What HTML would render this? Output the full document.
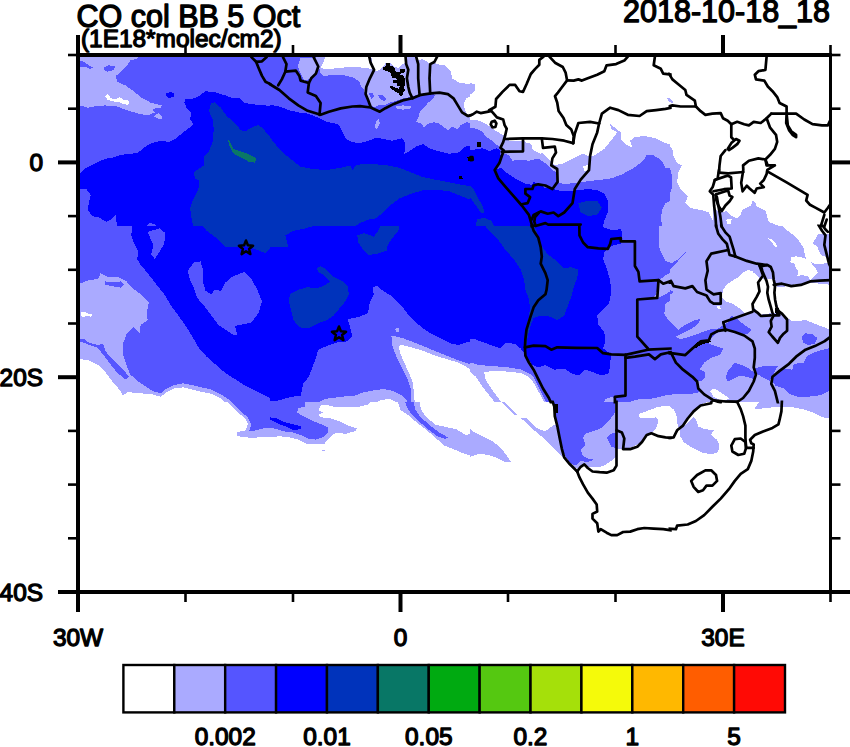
<!DOCTYPE html>
<html lang="en"><head><meta charset="utf-8"><title>CO col BB 5 Oct</title>
<style>html,body{margin:0;padding:0;background:#fff;}svg{display:block;}text{font-family:"Liberation Sans",sans-serif;fill:#000;stroke:#000;stroke-width:1.3px;stroke-linejoin:round;}.t1{font-size:30.5px}.t2{font-size:24.4px}.bd{fill:none;stroke:#000;stroke-width:2.7;stroke-linejoin:round;stroke-linecap:round}.fr{fill:none;stroke:#000;stroke-width:3.6;stroke-linecap:butt}</style></head><body>
<svg width="850" height="747" viewBox="0 0 850 747">
<rect width="850" height="747" fill="#fff"/>
<defs><clipPath id="c"><rect x="78" y="55" width="752.5" height="537"/></clipPath></defs>
<defs><clipPath id="k0"><rect x="78" y="55" width="192.236" height="170.972"/></clipPath><clipPath id="q0"><rect x="78" y="55" width="193.736" height="172.472"/></clipPath><clipPath id="k1"><rect x="270" y="55" width="200.236" height="170.972"/></clipPath><clipPath id="q1"><rect x="268.5" y="55" width="203.236" height="172.472"/></clipPath><clipPath id="k2"><rect x="470" y="55" width="200.236" height="170.972"/></clipPath><clipPath id="q2"><rect x="468.5" y="55" width="203.236" height="172.472"/></clipPath><clipPath id="k3"><rect x="670" y="55" width="160.5" height="171"/></clipPath><clipPath id="q3"><rect x="668.5" y="55" width="162" height="172.5"/></clipPath><clipPath id="k4"><rect x="78" y="226" width="192.236" height="175.972"/></clipPath><clipPath id="q4"><rect x="78" y="224.5" width="193.736" height="178.972"/></clipPath><clipPath id="k5"><rect x="270" y="226" width="200.236" height="175.972"/></clipPath><clipPath id="q5"><rect x="268.5" y="224.5" width="203.236" height="178.972"/></clipPath><clipPath id="k6"><rect x="470" y="226" width="200.236" height="175.972"/></clipPath><clipPath id="q6"><rect x="468.5" y="224.5" width="203.236" height="178.972"/></clipPath><clipPath id="k7"><rect x="670" y="226" width="160.5" height="176"/></clipPath><clipPath id="q7"><rect x="668.5" y="224.5" width="162" height="179"/></clipPath><clipPath id="k8"><rect x="78" y="402" width="192.236" height="175.972"/></clipPath><clipPath id="q8"><rect x="78" y="400.5" width="193.736" height="178.972"/></clipPath><clipPath id="k9"><rect x="270" y="402" width="200.236" height="175.972"/></clipPath><clipPath id="q9"><rect x="268.5" y="400.5" width="203.236" height="178.972"/></clipPath><clipPath id="k10"><rect x="470" y="402" width="200.236" height="175.972"/></clipPath><clipPath id="q10"><rect x="468.5" y="400.5" width="203.236" height="178.972"/></clipPath><clipPath id="k11"><rect x="670" y="402" width="160.5" height="176"/></clipPath><clipPath id="q11"><rect x="668.5" y="400.5" width="162" height="179"/></clipPath><clipPath id="k12"><rect x="370" y="55" width="60" height="53"/></clipPath><clipPath id="q12"><rect x="368.5" y="55" width="63" height="54.5"/></clipPath><clipPath id="k13"><rect x="600" y="370" width="120" height="106"/></clipPath><clipPath id="q13"><rect x="598.5" y="368.5" width="123" height="109"/></clipPath></defs>
<g shape-rendering="crispEdges">
<g clip-path="url(#k0)">
<rect x="78" y="55" width="192.236" height="170.972" fill="#5555ff"/>
<polygon fill="#aaaaff" points="79.9,57.1 138.3,57.1 138.3,58.2 130.1,60.6 126.5,66.5 120.6,72.4 115.9,75.9 117.1,81.8 125.4,85.3 133.6,91.2 140.7,97.1 151.3,103.0 161.9,105.4 160.7,107.7 152.4,108.9 154.8,112.4 147.7,115.5 138.3,113.6 126.5,110.1 117.1,106.5 105.3,105.4 93.6,106.5 87.7,107.7 79.9,105.4"/>
<polygon fill="#5555ff" points="104.2,67.0 108.9,65.3 114.8,66.5 114.3,70.0 107.7,71.7 104.2,70.0"/>
<polygon fill="#5555ff" points="79.9,60.6 84.1,61.8 88.8,65.3 93.1,67.7 90.0,68.8 84.1,66.5 79.9,66.5"/>
<polygon fill="#ffffff" points="104.9,95.9 107.7,94.3 111.2,98.3 115.9,99.5 119.5,97.1 123.0,99.5 128.9,100.6 128.4,104.7 123.0,104.2 118.3,101.8 112.4,101.4 107.7,99.9"/>
<polygon fill="#aaaaff" points="153.6,116.4 158.3,113.1 161.9,116.0 161.4,119.7 157.2,118.3"/>
<polygon fill="#0000ff" points="166.1,93.6 170.1,91.9 174.1,93.6 173.7,97.1 168.9,97.8 166.1,95.9"/>
<polygon fill="#0000ff" points="79.9,173.7 84.1,169.0 91.2,165.4 98.3,161.9 105.3,158.8 114.8,157.2 120.6,154.8 132.4,153.7 138.3,152.5 145.4,146.6 151.3,143.1 160.7,140.7 168.9,141.9 176.0,138.3 183.1,132.4 187.8,128.9 193.7,124.2 190.1,119.5 191.3,112.4 186.6,107.7 184.3,103.0 185.0,99.5 194.9,98.3 200.7,94.8 205.5,91.2 216.1,92.4 226.7,95.9 232.5,98.3 239.6,98.3 244.3,103.0 256.1,104.7 272.6,106.1 272.6,229.0 79.9,229.0"/>
<polygon fill="#5555ff" points="79.9,188.5 86.5,189.5 90.7,194.9 88.8,203.1 87.7,210.2 92.4,216.1 99.4,217.7 106.5,222.0 112.4,218.4 115.9,214.9 117.1,229.0 79.9,229.0"/>
<polygon fill="#5555ff" points="145.4,229.0 148.9,223.1 154.8,223.9 158.3,229.0"/>
<polygon fill="#5555ff" points="79.9,167.8 86.5,163.1 93.6,158.8 100.6,153.7 101.8,156.0 94.7,161.9 87.7,166.6 79.9,171.3"/>
<polygon fill="#0033bb" points="210.9,103.7 214.9,102.3 220.8,107.7 226.7,116.0 234.9,123.0 240.8,130.1 245.5,131.3 251.4,127.7 258.5,124.9 263.2,128.9 272.6,139.5 272.6,229.0 193.7,229.0 191.3,217.3 190.1,207.8 193.7,198.4 198.4,189.0 199.6,180.7 194.9,178.4 193.7,172.5 198.4,169.0 203.8,165.4 204.3,156.0 209.0,151.3 212.5,141.9 213.7,130.1 213.2,120.7 209.0,111.2"/>
<polygon fill="#0a7766" points="227.4,139.0 230.2,141.9 233.7,148.9 242.0,151.8 250.2,154.8 256.6,158.8 254.9,162.6 249.0,161.9 240.8,157.2 233.7,153.7 230.2,147.8"/>
</g>
<g clip-path="url(#k1)">
<rect x="270" y="55" width="200.236" height="170.972" fill="#5555ff"/>
<polygon fill="#aaaaff" points="300.6,58.2 325.4,57.1 323.0,63.0 319.5,68.8 315.9,74.7 308.9,79.4 304.2,80.6 300.6,73.6 297.8,66.5"/>
<polygon fill="#aaaaff" points="320.6,57.1 472.6,57.1 472.6,123.0 466.2,122.3 460.6,125.1 457.8,129.4 452.1,126.6 447.9,130.1 445.0,128.0 439.4,123.7 433.7,122.3 428.1,123.7 423.8,127.3 421.0,123.0 416.1,122.3 418.2,118.1 419.6,112.4 423.8,108.2 428.1,102.5 432.3,99.7 435.1,95.5 430.9,92.6 423.8,93.3 416.8,94.8 412.5,96.9 406.9,97.6 401.2,99.0 395.6,101.1 389.7,102.5 384.0,105.4 379.8,104.7 375.5,106.8 370.6,106.1 367.8,101.1 365.6,95.5 363.5,89.1 360.0,84.9 359.5,81.8 352.4,77.1 340.7,74.7 328.9,75.4 324.2,76.4 320.6,73.6 319.5,68.8 323.0,63.0"/>
<polygon fill="#5555ff" points="368.5,93.3 372.7,92.6 374.1,96.9 371.3,99.0"/>
<polygon fill="#5555ff" points="378.4,95.5 382.6,94.8 386.8,99.0 384.0,101.1 379.8,99.0"/>
<polygon fill="#aaaaff" points="396.0,106.1 402.6,105.4 411.1,106.1 410.4,108.9 402.6,109.6 396.7,108.9"/>
<polygon fill="#aaaaff" points="376.2,120.9 379.1,118.8 379.8,123.7 376.9,128.7 374.8,128.0"/>
<polygon fill="#ffffff" points="325.4,57.1 369.2,57.1 370.6,62.7 373.4,69.1 368.5,68.4 364.2,67.7 352.4,67.0 340.7,67.7 331.2,68.8 320.6,68.4 323.0,63.0"/>
<polygon fill="#ffffff" points="371.3,56.4 405.5,56.4 404.7,63.4 401.2,64.8 398.4,67.7 394.9,67.0 390.4,63.4 386.1,62.7 383.3,66.3 379.8,69.8 375.5,71.2 373.4,69.1 372.0,62.7"/>
<polygon fill="#ffffff" points="416.8,56.4 436.5,56.4 435.1,59.9 430.9,62.7 429.5,64.1 426.7,61.3 422.4,59.2 418.2,59.9"/>
<polygon fill="#ffffff" points="437.3,56.4 479.9,56.4 479.9,112.4 477.8,111.2 473.5,113.8 467.9,115.5 464.8,109.6 463.4,103.9 466.2,98.3 472.1,95.5 474.9,88.4 473.5,83.2 467.9,83.9 459.2,82.5 452.1,78.3 450.7,71.2 445.0,65.5 436.5,64.1 434.4,62.0"/>
<polygon fill="#0000ff" points="270.0,104.7 279.4,106.5 288.8,110.1 298.3,112.4 307.7,113.6 317.1,117.1 326.5,121.8 338.3,124.2 341.8,130.1 345.4,138.3 351.3,141.9 359.5,143.1 368.9,140.7 376.0,137.6 383.1,139.0 392.5,140.7 401.9,138.3 405.5,143.1 404.3,153.7 409.0,151.3 416.1,146.6 423.1,144.2 430.2,148.9 439.6,151.3 449.0,153.7 458.5,152.5 465.5,146.6 472.6,145.4 472.6,229.0 270.0,229.0"/>
<polygon fill="#0033bb" points="270.0,137.2 277.1,146.6 284.1,153.7 291.2,159.5 300.6,166.6 312.4,169.0 326.5,170.1 340.7,167.8 350.1,165.4 352.4,170.1 356.0,165.4 364.2,163.5 376.0,164.3 387.8,165.4 399.6,167.8 411.3,172.5 423.1,177.2 434.9,179.6 446.7,181.9 458.5,184.3 472.6,186.6 472.6,200.8 458.5,194.9 449.0,191.3 434.9,189.5 423.1,190.2 411.3,193.7 399.6,198.4 390.1,205.5 383.1,212.5 376.0,218.4 368.9,219.6 359.5,223.1 351.3,229.0 270.0,229.0"/>
<polygon fill="#000000" points="467.4,157.2 470.0,156.5 470.9,160.7 468.4,161.2"/>
<polygon fill="#000000" points="458.9,176.3 462.0,175.8 462.7,178.6 459.6,179.1"/>
</g>
<g clip-path="url(#k2)">
<rect x="470" y="55" width="200.236" height="170.972" fill="#ffffff"/>
<polygon fill="#aaaaff" points="470.0,83.0 474.7,84.2 475.2,90.0 472.4,93.6 470.0,93.6"/>
<polygon fill="#aaaaff" points="470.0,119.5 479.4,120.7 486.5,124.2 491.2,127.7 498.3,132.4 505.3,136.0 508.9,140.7 521.8,140.7 531.2,143.1 532.4,148.9 538.3,151.3 543.0,153.7 550.1,160.7 554.8,165.4 564.2,163.1 573.7,158.4 583.1,153.7 590.1,157.2 597.2,153.7 604.3,148.9 609.0,143.1 613.7,137.2 617.2,132.4 611.3,128.9 610.2,124.2 614.9,127.7 620.8,132.4 620.8,139.5 625.5,144.2 632.5,147.8 630.2,140.7 634.9,137.2 644.3,136.0 656.1,138.3 665.5,143.1 672.6,145.4 672.6,229.0 470.0,229.0"/>
<polygon fill="#ffffff" points="583.1,166.6 587.8,165.0 588.3,170.1 584.3,171.3"/>
<polygon fill="#aaaaff" points="667.4,98.3 672.6,98.3 672.6,102.3 669.1,101.8"/>
<polygon fill="#5555ff" points="470.0,127.7 477.1,128.9 481.8,131.3 486.5,137.2 492.4,140.7 495.9,144.2 500.6,147.8 503.0,153.7 508.9,154.8 512.4,160.7 519.5,159.5 528.9,160.7 538.3,158.4 545.4,163.1 551.3,169.0 556.0,172.5 557.2,181.9 564.2,184.3 573.7,183.1 583.1,181.9 592.5,180.7 601.9,179.6 611.3,178.4 620.8,174.9 630.2,170.1 637.3,165.4 644.3,159.5 646.7,154.8 652.6,154.8 658.5,158.4 663.2,163.1 665.5,167.8 672.6,169.0 672.6,229.0 470.0,229.0"/>
<polygon fill="#aaaaff" points="672.6,199.6 665.5,203.1 662.0,210.2 660.8,219.6 663.2,229.0 672.6,229.0"/>
<polygon fill="#0000ff" points="468.8,150.1 474.0,149.6 482.5,148.2 489.6,151.1 496.6,148.2 499.4,149.6 500.9,156.7 498.7,162.4 494.5,169.7 500.9,168.0 507.9,173.7 516.6,179.3 525.1,183.6 532.2,185.0 533.6,182.2 539.3,183.6 544.9,187.8 553.4,189.2 560.7,190.9 568.9,191.3 578.4,190.2 587.8,189.0 597.2,190.2 604.3,193.7 607.8,200.8 608.5,210.2 604.7,219.6 601.9,229.0 470.0,229.0"/>
<polygon fill="#0033bb" points="578.4,203.1 587.8,200.8 597.2,200.8 601.9,207.8 597.2,214.9 587.8,216.1 580.7,212.5"/>
<polygon fill="#0033bb" points="470.0,185.5 473.5,189.0 478.2,198.4 483.0,206.7 484.1,212.5 480.6,212.5 475.9,205.5 470.0,197.2"/>
<polygon fill="#0033bb" points="477.1,219.6 484.1,217.7 491.2,220.8 495.9,229.0 474.7,229.0"/>
<polygon fill="#000000" points="477.1,141.9 480.8,141.9 481.3,146.8 477.3,146.8"/>
<polygon fill="#ffffff" points="524.7,140.0 541.8,139.5 542.6,147.8 540.7,153.7 533.1,150.1 531.7,143.8 525.4,142.3"/>
</g>
<g clip-path="url(#k3)">
<rect x="670" y="55" width="160.5" height="171" fill="#ffffff"/>
<polygon fill="#aaaaff" points="650.0,137.2 659.4,138.3 666.5,143.1 672.4,148.9 673.6,156.0 677.1,163.1 681.8,165.4 678.3,172.5 677.1,181.9 680.6,189.0 687.7,196.1 685.3,203.1 690.0,207.8 701.8,210.2 708.9,212.5 712.4,219.6 714.8,229.0 650.0,229.0"/>
<polygon fill="#5555ff" points="650.0,153.7 657.1,156.0 664.1,160.7 670.0,167.8 672.4,177.2 672.4,186.6 668.8,196.1 663.0,203.1 660.6,212.5 660.6,229.0 650.0,229.0"/>
<polygon fill="#aaaaff" points="667.0,98.3 670.0,98.3 673.6,102.3 671.2,103.0"/>
<polygon fill="#aaaaff" points="712.4,230.9 713.1,208.3 716.0,210.2 721.8,212.5 726.8,211.1 731.0,215.4 736.7,218.2 740.5,215.4 741.9,210.4 746.8,207.6 751.1,205.5 752.5,201.2 755.3,201.9 756.7,206.9 761.0,208.3 765.2,210.4 767.3,216.8 768.7,221.7 775.1,224.6 782.2,226.7 789.2,230.9"/>
<polygon fill="#ffffff" points="726.1,219.6 731.7,218.9 731.0,224.6 727.5,223.9"/>
</g>
<g clip-path="url(#k4)">
<rect x="78" y="226" width="192.236" height="175.972" fill="#5555ff"/>
<polygon fill="#0000ff" points="132.4,226.0 131.2,235.4 133.6,242.5 138.3,251.9 137.1,259.0 140.7,264.9 147.7,273.1 154.8,282.5 164.2,294.3 171.3,306.1 178.4,315.5 186.6,327.3 192.5,336.7 198.4,347.3 206.6,356.7 216.1,365.0 225.5,373.2 234.9,379.1 244.3,385.0 256.1,390.9 272.6,399.1 272.6,224.8 132.4,224.8"/>
<polygon fill="#5555ff" points="147.7,231.9 159.5,228.4 165.4,233.1 164.2,243.7 159.5,251.9 154.8,259.0 151.3,254.3 153.6,244.8 150.1,237.8"/>
<polygon fill="#5555ff" points="187.8,270.8 193.7,262.5 200.7,261.3 203.1,270.8 203.1,282.5 205.5,290.8 211.3,294.3 214.9,289.6 220.8,290.8 225.5,282.5 232.5,276.6 244.3,271.9 251.4,279.0 257.3,289.6 262.0,301.4 258.5,313.2 251.4,322.6 239.6,324.9 234.9,326.1 237.7,335.5 232.5,334.4 225.5,329.7 218.4,324.9 211.3,315.5 204.3,306.1 197.2,297.8 193.7,287.2 190.1,280.2"/>
<polygon fill="#0033bb" points="201.9,224.8 206.6,230.7 216.1,237.8 225.5,247.2 234.9,247.2 244.3,246.0 256.1,249.6 265.5,253.1 270.0,248.4 272.6,247.2 272.6,224.8"/>
<polygon fill="#aaaaff" points="79.9,283.7 88.8,280.2 98.3,279.0 100.6,273.1 107.7,276.6 117.1,276.6 126.5,281.4 131.2,287.2 140.7,294.3 148.9,302.6 146.6,313.2 147.7,320.2 140.7,324.9 139.5,333.2 133.6,327.3 126.5,334.4 123.0,343.8 123.0,354.4 126.5,365.0 130.1,374.4 138.3,381.5 145.4,386.2 152.4,390.9 160.7,393.3 166.6,388.5 173.7,385.0 183.1,383.4 197.2,386.2 211.3,389.7 220.8,394.4 230.2,400.3 234.9,405.0 79.9,405.0"/>
<polygon fill="#5555ff" points="79.9,338.6 84.1,339.1 88.8,342.6 93.6,343.8 98.3,345.0 103.0,343.8 105.3,350.9 111.2,357.9 118.3,365.0 125.4,372.1 128.9,376.8 125.4,379.6 117.1,372.5 110.0,363.8 103.0,354.4 97.1,347.3 92.4,346.1 86.5,343.8 79.9,341.4"/>
<polygon fill="#ffffff" points="79.9,359.1 88.8,360.3 98.3,365.0 105.3,372.1 112.4,381.5 119.5,389.7 123.0,395.6 127.7,392.1 140.7,393.3 152.4,394.4 160.7,396.8 166.6,392.1 173.7,388.5 183.1,387.4 197.2,390.9 211.3,393.7 220.8,398.4 226.7,405.0 79.9,405.0"/>
<polygon fill="#ffffff" points="80.6,312.7 84.1,311.3 87.7,313.6 92.4,314.3 91.2,316.7 86.5,316.0 81.8,317.4"/>
<polygon fill="#5555ff" points="105.3,281.4 113.6,282.5 120.6,281.4 124.2,284.9 120.6,287.7 112.4,286.1 105.3,284.9"/>
</g>
<g clip-path="url(#k5)">
<rect x="270" y="226" width="200.236" height="175.972" fill="#0000ff"/>
<polygon fill="#0033bb" points="270.0,224.8 317.1,224.8 305.3,228.4 293.6,230.7 285.3,235.4 286.5,240.1 288.4,247.2 270.0,246.7"/>
<polygon fill="#0033bb" points="357.2,235.4 364.2,233.1 373.7,236.6 378.4,230.7 380.7,224.8 399.6,224.8 398.4,230.7 392.5,237.8 387.8,244.8 386.6,250.7 376.0,254.3 367.8,254.7 363.1,249.6 358.3,242.5"/>
<polygon fill="#0033bb" points="317.1,268.4 320.6,266.0 326.5,269.6 333.6,276.6 343.0,281.4 347.7,286.1 348.9,294.3 345.4,301.4 339.5,308.4 333.6,315.5 326.5,320.2 317.1,323.8 307.7,328.5 299.4,327.3 293.6,320.2 291.2,310.8 288.8,301.4 290.0,294.3 298.3,289.6 307.7,287.2 317.1,288.4 325.4,284.9 330.1,281.4 324.2,275.5 318.3,271.9"/>
<polygon fill="#5555ff" points="372.5,287.2 377.2,286.1 383.1,290.8 392.5,296.7 401.9,306.1 409.0,315.5 416.1,322.6 423.1,328.5 432.5,334.4 442.0,339.1 451.4,343.8 458.5,345.0 465.5,342.6 472.6,341.4 472.6,405.0 270.0,405.0 270.0,401.5 279.4,400.3 291.2,396.8 300.6,395.6 301.8,390.9 303.0,383.8 308.9,376.8 312.4,367.3 315.9,357.9 318.3,349.7 326.5,346.1 336.0,342.6 346.6,341.4 352.4,336.7 350.1,327.3 347.7,319.1 359.5,316.7 367.8,313.2 370.1,301.4 373.7,294.3"/>
<polygon fill="#aaaaff" points="391.3,335.5 401.9,337.9 411.3,341.4 423.1,346.1 434.9,350.9 446.7,355.6 458.5,360.3 472.6,365.0 472.6,405.0 411.3,405.0 411.3,390.9 407.8,379.1 401.9,367.3 396.0,355.6 392.5,346.1"/>
<polygon fill="#ffffff" points="398.4,346.1 401.9,345.0 411.3,347.3 423.1,350.9 434.9,355.6 446.7,359.1 458.5,362.6 465.5,366.2 472.6,370.9 472.6,405.0 414.9,405.0 413.7,390.9 412.5,381.5 409.0,373.2 404.3,362.6 400.7,354.4"/>
<polygon fill="#aaaaff" points="394.9,328.7 398.4,327.8 399.1,332.0 396.7,332.5"/>
<polygon fill="#aaaaff" points="314.8,405.0 324.2,399.1 340.7,396.8 354.8,395.6 361.9,392.8 373.7,390.4 383.1,389.0 392.5,390.9 401.9,395.6 406.6,400.3 409.0,405.0"/>
<polygon fill="#ffffff" points="371.3,405.0 380.7,399.9 390.1,399.1 397.2,402.7 398.4,405.0"/>
</g>
<g clip-path="url(#k6)">
<rect x="470" y="226" width="200.236" height="175.972" fill="#0000ff"/>
<polygon fill="#0033bb" points="484.1,224.8 533.6,224.8 538.3,235.4 540.7,244.8 547.7,254.3 557.2,261.3 564.2,268.4 571.3,267.2 578.4,269.6 577.2,277.8 573.7,287.2 571.3,296.7 567.8,306.1 564.2,315.5 557.2,320.2 550.1,316.7 540.7,315.5 533.6,317.9 530.1,327.3 527.7,336.7 526.5,343.8 525.4,334.4 526.5,324.9 528.9,316.7 530.1,308.4 528.9,299.0 525.4,289.6 524.2,280.2 520.6,269.6 513.6,259.0 505.3,249.6 498.3,240.1 491.2,233.1"/>
<polygon fill="#0000ff" points="487.7,248.4 495.9,247.7 497.8,250.5 488.8,251.4"/>
<polygon fill="#5555ff" points="601.9,224.8 603.3,227.2 611.1,230.0 621.0,229.3 622.4,234.2 621.9,240.1 620.8,243.7 611.3,246.0 604.3,251.9 603.1,259.0 606.6,268.4 610.2,280.2 611.3,292.0 609.0,303.7 601.9,310.8 597.2,315.5 598.4,324.9 604.3,332.0 605.5,341.4 603.1,348.5 606.6,350.9 611.3,354.4 610.2,362.6 609.0,373.2 601.9,375.6 592.5,372.1 585.4,369.7 578.4,375.6 571.3,373.2 564.2,368.5 554.8,369.7 545.4,365.0 538.3,367.3 532.4,365.0 528.9,360.3 525.4,354.4 520.6,348.5 514.8,343.8 505.3,342.6 500.6,348.5 493.6,346.1 484.1,342.6 474.7,339.1 470.0,338.6 470.0,405.0 672.6,405.0 672.6,224.8"/>
<polygon fill="#aaaaff" points="658.5,224.8 658.5,235.4 659.6,249.6 665.5,261.3 672.6,262.5 672.6,224.8"/>
<polygon fill="#aaaaff" points="672.6,271.9 665.5,275.5 660.8,279.0 658.5,282.5 656.1,294.3 653.7,296.7 658.5,297.8 665.5,294.3 672.6,289.6"/>
<polygon fill="#aaaaff" points="672.6,299.0 665.5,303.7 664.3,313.2 667.9,320.2 672.6,322.6"/>
<polygon fill="#aaaaff" points="470.0,362.6 479.4,365.0 493.6,366.2 507.7,367.3 521.8,369.7 531.2,374.4 534.8,379.1 540.7,390.9 547.7,405.0 470.0,405.0"/>
<polygon fill="#ffffff" points="484.1,372.1 493.6,370.9 507.7,371.6 521.8,373.2 528.9,376.8 533.6,382.7 539.5,393.3 545.4,405.0 503.0,405.0 498.3,398.0 491.2,388.5 485.3,379.1"/>
<polygon fill="#ffffff" points="470.0,371.6 475.9,376.8 483.0,387.4 492.4,399.1 497.1,405.0 470.0,405.0"/>
<polygon fill="#aaaaff" points="601.9,405.0 605.5,399.1 611.3,396.8 616.1,399.1 617.2,405.0"/>
</g>
<g clip-path="url(#k7)">
<rect x="670" y="226" width="160.5" height="176" fill="#aaaaff"/>
<polygon fill="#5555ff" points="650.0,224.8 658.2,224.8 659.4,237.8 659.9,251.9 664.1,261.3 671.2,263.7 678.3,259.0 690.0,248.4 683.0,255.4 673.6,266.0 666.5,273.1 661.8,279.0 666.5,287.2 673.6,292.0 667.7,296.7 664.1,306.1 665.3,315.5 671.2,322.6 678.3,329.7 685.3,324.9 694.8,320.2 700.6,319.1 697.1,324.9 690.0,329.7 683.0,333.2 675.9,336.7 680.6,339.1 690.0,336.7 699.5,333.2 708.9,329.7 718.3,328.5 727.7,322.6 731.3,315.5 737.2,319.1 744.2,324.9 751.3,329.7 747.8,334.4 739.5,333.2 732.4,330.8 725.4,329.7 718.3,332.0 711.2,337.9 708.9,343.8 716.0,346.1 723.0,348.5 720.7,354.4 711.2,357.9 704.2,362.6 699.5,369.7 704.4,371.3 705.1,377.0 702.3,380.5 696.6,380.5 698.1,385.5 699.5,391.1 696.6,393.3 682.5,394.0 668.4,394.7 657.1,396.1 650.0,398.0"/>
<polygon fill="#5555ff" points="725.4,376.8 728.9,369.7 734.8,362.6 741.9,365.0 748.9,368.5 754.8,373.2 753.7,379.1 746.6,376.8 739.5,375.6 732.4,379.1 727.7,381.5"/>
<polygon fill="#5555ff" points="772.5,375.4 778.2,370.4 783.8,368.3 792.3,369.7 793.9,364.0 803.8,362.6 807.4,355.6 815.1,352.0 822.2,349.9 832.6,347.3 832.6,388.3 823.6,394.0 815.1,396.1 806.7,396.8 798.2,396.8 789.5,394.0 783.8,388.3 775.3,385.5 772.5,381.0"/>
<polygon fill="#5555ff" points="754.8,368.3 765.4,365.5 778.2,365.5 772.5,375.4 769.7,381.0 764.0,378.2 758.4,374.6 754.8,373.2"/>
<polygon fill="#5555ff" points="801.9,336.7 805.5,333.2 812.5,334.4 817.3,337.9 814.9,343.8 807.8,345.0 803.1,342.6"/>
<polygon fill="#ffffff" points="723.0,289.6 727.7,283.7 737.2,277.8 744.2,271.9 751.3,270.8 758.4,276.6 760.7,284.9 759.5,294.3 756.0,303.7 751.3,312.0 744.2,313.2 739.5,308.4 732.4,303.7 725.4,301.4 721.8,296.7"/>
<polygon fill="#ffffff" points="774.9,286.1 781.9,287.2 791.3,284.9 800.8,283.7 810.2,282.5 819.6,283.7 832.6,284.9 832.6,330.8 824.3,327.3 814.9,323.8 805.5,319.8 798.4,321.4 792.0,320.9 787.1,318.1 783.1,314.3 779.6,310.8 777.2,303.7 775.3,296.7 774.4,289.6"/>
<polygon fill="#ffffff" points="760.2,278.3 766.6,278.8 773.7,279.7 775.1,285.4 774.4,292.7 775.1,299.7 776.5,306.8 777.2,312.5 761.0,314.6 756.7,311.0 753.9,306.8 755.3,299.7 759.5,292.7 758.8,285.4"/>
<polygon fill="#000000" points="775.1,308.4 778.6,308.4 780.0,316.0 775.8,316.5"/>
<polygon fill="#ffffff" points="716.9,306.1 719.7,305.6 720.7,308.9 717.8,309.6"/>
<polygon fill="#ffffff" points="781.9,224.8 832.6,224.8 832.6,234.2 818.0,234.2 816.5,237.5 813.7,240.4 813.3,244.1 817.0,246.0 818.9,250.7 821.3,255.4 824.6,256.4 828.3,260.2 832.6,261.3 832.6,263.0 826.4,263.0 822.7,263.9 815.1,263.9 810.4,262.0 815.1,267.7 818.0,272.4 814.2,276.2 810.4,279.9 807.6,276.2 801.9,275.2 797.2,276.2 798.2,271.5 796.3,268.6 794.4,263.9 790.2,262.0 791.6,256.9 796.3,256.4 801.9,257.3 806.2,259.2 805.2,255.4 803.4,247.9 800.1,242.3 795.3,236.6 790.6,232.8 784.0,228.1"/>
<polygon fill="#ffffff" points="768.0,238.0 771.6,239.4 775.1,242.3 777.9,247.2 775.1,246.5 772.3,243.0"/>
<polygon fill="#ffffff" points="744.0,272.2 747.8,270.3 752.5,270.8 754.8,275.9 744.0,276.4"/>
<polygon fill="#ffffff" points="710.1,390.9 713.6,388.5 718.3,390.9 725.4,395.6 730.1,399.1 720.7,400.3 713.6,396.8"/>
<polygon fill="#000000" points="693.6,346.1 697.1,342.6 703.0,340.3 710.1,339.5 710.8,341.9 704.2,343.8 698.3,346.1 694.8,349.0"/>
</g>
<g clip-path="url(#k8)">
<rect x="78" y="402" width="192.236" height="175.972" fill="#ffffff"/>
<polygon fill="#aaaaff" points="226.7,400.8 232.5,406.7 239.6,413.8 245.5,418.5 247.9,424.4 245.5,430.3 237.3,432.2 237.3,436.2 246.7,437.3 253.7,438.5 258.5,436.9 272.6,437.3 272.6,400.8"/>
<polygon fill="#5555ff" points="230.2,400.8 234.9,405.5 242.0,412.6 247.9,417.3 251.4,424.4 249.0,431.4 256.1,430.3 265.5,427.9 272.6,428.4 272.6,400.8"/>
</g>
<g clip-path="url(#k9)">
<rect x="270" y="402" width="200.236" height="175.972" fill="#ffffff"/>
<polygon fill="#aaaaff" points="270.0,400.8 370.1,400.8 368.9,404.4 359.5,406.7 347.7,407.2 336.0,407.2 326.5,404.8 320.6,405.5 318.3,410.2 323.0,412.6 318.3,415.0 320.6,417.3 328.9,418.0 338.3,420.8 347.7,425.6 357.2,428.4 354.8,431.4 345.4,433.8 336.0,432.6 331.2,436.2 326.5,440.9 324.2,444.4 317.1,444.4 307.7,444.4 298.3,439.7 288.8,437.3 279.4,436.2 270.0,437.3"/>
<polygon fill="#5555ff" points="270.0,400.8 305.3,400.8 305.3,406.7 298.3,407.9 297.1,412.6 303.0,416.1 312.4,420.8 321.8,424.4 328.4,427.9 327.7,432.6 323.0,437.3 315.9,439.7 307.7,438.5 300.6,435.0 293.6,432.6 284.1,431.4 277.1,429.1 270.0,427.9"/>
<polygon fill="#0000ff" points="270.0,417.3 277.1,418.5 284.1,422.0 293.6,424.4 301.8,426.7 300.6,429.1 293.6,430.3 286.5,426.7 279.4,424.4 272.4,420.8 270.0,419.7"/>
<polygon fill="#aaaaff" points="397.2,400.8 419.6,400.8 420.8,409.1 425.5,416.1 434.9,424.4 444.3,426.7 456.1,429.1 465.5,435.0 472.6,433.8 472.6,455.7 465.5,454.3 456.1,450.3 444.3,445.6 434.9,437.3 425.5,429.1 416.1,422.0 406.6,413.8 400.7,410.2"/>
<polygon fill="#5555ff" points="404.7,400.8 413.7,400.8 414.9,409.1 420.8,417.3 430.2,425.6 439.6,432.6 447.9,437.3 445.5,439.2 437.3,436.2 427.8,429.1 418.4,420.8 410.2,412.6 406.6,406.7"/>
<polygon fill="#aaaaff" points="321.8,449.6 325.4,449.6 325.4,451.0 321.8,451.0"/>
</g>
<g clip-path="url(#k10)">
<rect x="470" y="402" width="200.236" height="175.972" fill="#ffffff"/>
<polygon fill="#aaaaff" points="470.0,429.1 474.7,432.6 484.1,437.3 493.6,442.0 500.6,447.9 506.5,455.0 511.2,462.1 505.3,462.1 498.3,458.5 488.8,455.0 479.4,453.8 470.0,456.7"/>
<polygon fill="#aaaaff" points="503.0,400.8 508.9,406.7 517.1,415.0 514.8,415.0 507.7,407.9 500.6,400.8"/>
<polygon fill="#aaaaff" points="520.6,418.0 526.5,418.5 532.4,424.4 538.3,429.1 545.4,431.4 551.3,426.7 555.3,424.4 558.3,432.6 560.7,444.4 563.1,457.4 559.5,453.8 552.4,446.8 545.4,439.7 538.3,433.8 531.2,427.9 525.4,422.0"/>
<polygon fill="#aaaaff" points="554.8,400.8 616.1,400.8 616.1,456.2 611.3,460.9 604.3,465.6 597.2,467.5 587.8,466.8 583.1,464.4 577.2,469.1 571.3,463.7 564.2,455.0 560.7,442.0 558.3,430.3 555.3,420.8"/>
<polygon fill="#5555ff" points="553.6,400.8 614.9,400.8 614.9,412.6 609.0,420.8 601.9,427.9 592.5,431.4 585.4,433.8 583.1,437.3 585.4,444.4 580.7,450.3 583.1,456.2 587.8,458.5 593.7,459.7 587.8,462.1 580.7,460.9 576.0,465.6 571.3,463.7 566.6,458.5 563.1,451.5 560.7,442.0 558.3,430.3 555.3,420.8 554.3,411.4"/>
<polygon fill="#5555ff" points="606.6,437.3 611.3,433.8 616.1,432.6 616.1,447.9 611.3,446.8 609.0,442.0"/>
<polygon fill="#aaaaff" points="616.1,400.8 672.6,400.8 672.6,405.5 658.5,406.7 649.0,410.2 639.6,413.8 638.4,417.3 646.7,418.5 656.1,417.3 658.5,420.8 656.1,427.9 651.4,433.8 645.5,437.3 639.6,443.2 632.5,446.8 623.1,449.1 616.1,449.1"/>
<polygon fill="#000000" points="554.8,404.4 558.3,404.4 558.3,412.6 555.3,412.6"/>
</g>
<g clip-path="url(#k11)">
<rect x="670" y="402" width="160.5" height="176" fill="#ffffff"/>
<polygon fill="#aaaaff" points="650.0,400.8 710.1,400.8 702.3,403.9 693.8,411.0 688.2,418.0 682.5,425.1 678.3,427.2 677.6,425.1 676.9,416.6 674.0,409.5 667.0,405.3 658.5,404.6 650.0,406.7"/>
<polygon fill="#aaaaff" points="679.7,429.3 686.7,423.7 693.8,416.6 696.6,420.8 698.1,426.5 705.1,429.3 713.8,430.0 711.0,435.0 716.7,439.5 719.5,445.1 718.1,452.2 711.0,454.3 700.9,452.2 692.4,447.9 683.9,442.3 680.4,436.6"/>
<polygon fill="#aaaaff" points="754.1,409.5 757.2,404.4 760.5,400.8 832.6,400.8 832.6,419.2 829.3,418.7 820.8,416.6 812.3,412.4 803.8,409.5 793.9,407.4 778.2,406.7 765.4,408.1"/>
</g>
<g clip-path="url(#k12)">
<polygon fill="#000000" points="383.1,67.4 386.3,65.6 386.3,63.2 389.9,63.2 390.2,65.6 392.7,66.4 394.8,68.5 394.5,70.3 396.6,71.7 399.8,72.0 400.5,69.2 403.0,68.5 404.8,69.2 404.8,72.0 403.3,73.4 401.2,72.7 400.2,74.9 403.3,75.6 404.8,78.4 404.8,83.4 404.4,87.6 404.8,91.2 403.0,91.9 402.6,95.4 399.8,95.8 398.4,93.3 394.8,91.2 390.6,88.3 390.2,86.2 392.7,86.2 395.5,88.0 399.1,88.7 399.8,86.2 397.3,85.5 397.0,83.0 393.4,82.7 393.1,80.2 396.6,79.8 396.3,77.7 392.0,77.7 391.3,74.9 390.6,72.7 387.4,71.0 383.5,70.3"/>
</g>
<g clip-path="url(#k13)">
<polygon fill="#aaaaff" points="628.4,402.4 634.1,400.4 639.7,399.1 653.9,398.4 665.3,395.5 670.2,394.7 670.2,402.6"/>
<polygon fill="#aaaaff" points="616.7,407.2 621.3,404.1 628.4,402.1 628.4,402.9 616.7,408.3"/>
</g>
</g>
<g class="bd">
<g clip-path="url(#q0)">
<polyline points="251.4,57.1 256.1,61.8 258.5,67.7 262.0,75.9 265.5,81.8 271.4,84.6"/>
<polyline points="256.1,61.8 262.0,61.3 266.7,57.1"/>
</g>
<g clip-path="url(#q1)">
<polyline points="268.8,83.5 279.4,90.0 288.8,98.3 298.3,105.4 307.7,110.8 320.6,114.8 328.9,111.7 340.7,108.4 352.4,106.5 360.0,106.1 370.6,107.5 379.8,111.7 385.4,108.2 393.9,103.9 402.6,100.4 412.5,98.3 421.0,94.8 430.9,93.3 439.4,92.6 447.9,94.1 453.5,98.3 457.8,105.4 462.0,112.4 467.9,116.0 473.5,114.5"/>
<polyline points="283.0,57.1 286.5,64.1 285.3,71.7 281.8,79.4 278.2,85.3"/>
<polyline points="285.3,71.7 295.9,70.7 299.4,75.9 300.6,80.6 308.9,83.0 311.2,78.3 315.9,73.6 318.3,66.5 313.6,57.1"/>
<polyline points="308.9,83.0 307.7,92.4 315.9,95.9 320.6,103.0 319.5,114.8"/>
<polyline points="369.2,56.4 370.6,62.7 374.1,69.8 369.9,78.3 366.3,87.0 365.6,94.1 368.5,101.1 370.6,106.8"/>
<polyline points="405.5,56.4 406.2,64.1 408.3,69.8 406.9,78.3 408.3,87.0 409.7,92.6 412.5,98.3"/>
<polyline points="416.1,56.4 418.2,64.1 418.2,78.3 418.9,87.0 419.6,94.8"/>
<polyline points="437.3,56.4 434.4,62.0 430.2,64.1 429.5,78.3 430.2,93.3"/>
</g>
<g clip-path="url(#q2)">
<polyline points="468.4,116.0 472.6,114.5 476.8,111.7 480.6,113.1 488.4,111.7 491.2,111.0 492.6,112.4 496.9,117.4 503.2,119.5 504.6,125.1 506.7,128.7 505.3,135.0 503.2,142.1 500.4,147.8 503.9,150.6 501.8,156.0 499.4,163.1 494.7,170.1 498.3,178.4 505.3,186.6 513.6,196.1 521.8,205.5 528.9,214.9 531.7,224.3 531.7,230.2"/>
<polyline points="491.2,111.0 489.1,110.3 495.4,106.8 496.1,99.0 502.5,91.9 509.6,84.9 515.2,84.9 519.5,91.2 523.0,91.9 526.5,84.2 530.8,74.0 535.0,69.1 539.3,64.8 539.3,59.9 543.5,56.6"/>
<polyline points="549.4,56.6 555.0,62.7 562.8,67.0 565.6,72.6 567.1,80.4 562.1,87.0 557.9,92.6 555.0,96.2 557.2,102.5 558.6,111.0 563.5,118.1 566.3,125.1 571.3,129.6 573.7,136.0 573.2,143.1"/>
<polyline points="505.3,139.0 523.0,138.3 541.8,138.3 552.4,139.0 564.2,140.7 573.2,143.1"/>
<polyline points="523.0,138.3 523.0,151.3 501.8,151.8"/>
<polyline points="541.8,138.3 543.0,147.8 554.8,146.6 556.0,152.5 552.4,158.4 551.3,165.4 557.2,169.0 557.6,181.9 552.4,189.0 545.4,185.5 538.3,184.3 533.6,185.5 532.4,189.0 525.4,189.0 525.4,193.7 530.1,197.2 527.7,203.1 521.8,204.3"/>
<polyline points="567.1,80.4 573.7,80.6 578.4,79.4 581.9,80.6 587.8,78.3 597.2,74.7 604.3,71.2 606.6,65.3 616.1,64.1 624.3,60.6 627.8,56.6"/>
<polyline points="573.2,143.1 574.8,133.6 578.4,123.0 590.1,121.8 599.1,123.5"/>
<polyline points="599.1,123.5 601.9,113.6 610.2,107.7 618.4,110.1 627.8,114.8 639.6,116.0 646.7,111.2 656.1,110.1 665.5,108.9 671.4,107.7"/>
<polyline points="599.1,123.5 597.2,132.4 592.5,144.2 590.1,156.0 589.0,170.1 580.7,179.6 574.8,189.0 572.5,203.1 564.2,212.5 558.3,216.1 553.6,212.5 547.7,213.7 540.7,211.4 533.6,214.9 531.7,219.6"/>
<polyline points="654.9,56.6 653.7,65.3 660.8,68.8 663.2,73.6 671.4,74.7"/>
<polyline points="533.1,225.5 535.5,226.0 545.4,223.1 548.2,224.6 580.7,224.6"/>
<polyline points="539.0,212.5 535.0,217.0 534.3,221.7 535.7,226.2"/>
<polyline points="491.7,121.8 494.7,120.7 496.4,123.5 495.4,127.0 492.4,127.3 490.7,124.4 491.7,121.8"/>
<polyline points="470.5,157.2 472.4,157.2 472.8,159.8 470.7,160.2 470.5,157.2"/>
</g>
<g clip-path="url(#q3)">
<polyline points="653.5,56.6 653.5,64.1 659.4,68.8 661.8,72.4 668.8,73.6 672.4,79.4 678.3,84.2 685.3,90.0 686.5,94.8 694.8,100.6 695.9,106.5"/>
<polyline points="648.8,112.4 657.1,110.1 664.1,107.7 672.4,105.4 680.6,106.5 695.9,106.5"/>
<polyline points="695.9,106.5 700.6,111.2 705.4,114.8 712.4,113.6 720.7,113.1 723.0,118.3 727.7,120.7 731.3,124.2"/>
<polyline points="731.3,124.2 737.2,121.8 744.2,124.2 748.9,125.4 753.7,121.8 760.7,123.0 766.6,118.3 771.3,113.6"/>
<polyline points="731.3,124.2 731.3,137.2 733.6,139.5"/>
<polyline points="727.7,148.9 731.3,143.1 736.0,139.0 739.5,140.7 737.2,144.2 732.4,147.8 728.9,150.1 727.7,148.9"/>
<polyline points="725.4,150.1 720.7,156.0 719.5,165.4 719.0,172.7"/>
<polyline points="766.6,56.6 765.4,70.0 758.4,71.2 754.8,74.7 756.0,79.4 764.3,80.6 767.8,86.5 772.5,91.2 777.2,97.1 779.6,103.0 786.6,106.5 786.6,113.6"/>
<polyline points="771.3,113.6 786.6,113.6 796.1,113.6 804.3,119.5 812.5,124.2 822.0,125.4 827.9,125.4 831.4,117.8"/>
<polyline points="786.6,113.6 787.8,125.4 791.3,131.3 796.1,134.8 796.1,137.2 792.5,134.8 789.0,130.1 786.2,123.0 786.6,113.6"/>
<polyline points="766.6,118.3 770.1,127.7 776.0,134.8 777.2,141.9 774.9,148.9 770.1,154.8 765.4,159.5 766.6,165.4"/>
<polyline points="743.1,165.4 748.9,160.7 758.4,158.4 765.4,159.5 767.8,165.4 774.9,165.4 767.3,169.9 766.6,174.1 763.8,180.0 760.2,183.6 763.8,187.1 756.7,188.5 754.6,192.8 749.6,188.5 746.8,185.7 742.6,191.3 741.2,182.9 743.3,169.9 743.1,165.4"/>
<polyline points="719.0,172.7 728.2,173.4 743.3,172.0"/>
<polyline points="767.3,171.3 786.6,182.4 807.6,194.9 806.2,200.5 810.0,204.8 814.9,207.4 824.3,212.5 827.9,207.8 831.4,202.7"/>
<polyline points="719.0,169.9 717.6,178.6 714.8,180.0 712.7,187.1 709.8,191.3 713.4,194.9"/>
<polyline points="714.8,180.0 727.5,175.6 731.0,177.2 731.7,188.5 724.0,189.2 713.4,191.3"/>
<polyline points="716.2,194.2 725.4,191.3 728.2,190.6 729.6,195.6 732.4,197.0 729.6,201.2 725.4,205.5 721.8,211.1 718.3,205.5 716.2,199.8 716.2,194.2"/>
<polyline points="713.4,194.9 713.4,197.0 714.1,205.5 715.5,216.8 716.4,230.2"/>
<polyline points="716.9,197.0 718.3,205.5 720.4,216.8 722.1,230.2"/>
<polyline points="819.6,230.2 824.3,214.9"/>
<polyline points="823.1,230.2 826.7,219.6"/>
</g>
<g clip-path="url(#q4)">
</g>
<g clip-path="url(#q5)">
</g>
<g clip-path="url(#q6)">
<polyline points="531.7,224.8 533.6,230.7 538.3,237.8 540.7,247.2 541.8,256.6 540.7,263.7 545.4,273.1 547.7,280.2 546.6,289.6 545.4,294.3 538.3,300.2 533.6,307.3 530.1,317.9 526.5,329.7 525.4,339.1 524.9,347.3 525.4,355.6 528.9,362.6 533.6,369.7 538.3,379.1 543.0,388.5 548.9,398.0 552.4,406.2"/>
<polyline points="579.3,224.1 579.5,235.4 583.1,242.5 587.8,247.2 598.4,248.4 607.8,248.9 610.2,243.7 611.3,239.0 620.8,238.2 620.8,241.3 634.9,241.3 634.9,254.3 634.9,266.0 638.4,271.9 639.6,281.4 658.5,280.2 663.2,283.7 671.4,280.9"/>
<polyline points="658.5,280.2 657.3,297.8 637.3,299.5 637.3,336.7 647.9,348.5"/>
<polyline points="524.9,347.3 533.6,345.7 545.4,346.1 551.3,349.7 557.2,347.3 576.0,347.8 597.2,348.0 603.1,353.2 611.3,354.4 625.5,354.9"/>
<polyline points="625.5,354.9 647.9,349.7 671.4,348.5"/>
<polyline points="625.5,357.9 634.9,356.7 649.0,354.4 654.9,359.1 660.8,354.4 671.4,352.0"/>
<polyline points="625.5,354.9 625.5,395.6 614.9,396.8 614.9,406.2"/>
</g>
<g clip-path="url(#q7)">
<polyline points="716.0,224.8 716.2,226.7 718.3,233.8 722.6,239.4 726.8,243.7 728.2,249.3 729.6,255.0 735.3,256.4"/>
<polyline points="721.1,224.8 721.8,226.7 725.4,232.4 729.6,236.6 731.7,243.7 733.9,250.7 735.3,256.4"/>
<polyline points="648.8,281.4 658.2,281.4 658.2,299.0 648.8,299.5"/>
<polyline points="658.2,282.5 665.3,283.7 671.2,281.4 673.6,286.1 685.3,288.4 692.4,286.1 697.1,292.0 706.5,295.5 710.1,301.4 713.6,303.7 720.7,303.7 720.7,293.1 713.6,294.3 706.5,289.6 705.4,280.2 707.7,270.8 706.5,261.3 711.2,253.6 728.2,250.0"/>
<polyline points="735.3,256.4 746.8,260.9 756.7,263.7 766.6,265.1"/>
<polyline points="759.5,265.6 763.1,275.5 758.1,282.5 759.5,291.3 756.7,296.9 752.5,304.0 753.2,309.6 758.1,313.2 761.0,316.0 770.8,315.3"/>
<polyline points="759.5,265.6 761.0,266.3 762.4,271.2 764.5,276.2 766.6,281.1 768.0,286.8 767.3,292.7 768.7,299.7 770.8,306.8 772.3,312.5 773.7,315.3 779.3,315.3 778.6,311.0 776.5,306.8 775.1,299.7 774.4,292.7 775.1,285.4 773.7,279.7 773.0,272.6 770.8,267.0 767.3,264.9 761.0,266.3"/>
<polyline points="773.7,315.3 770.8,320.9 771.6,326.6 768.7,332.2 772.3,336.5 777.9,342.8 780.0,337.9 783.6,333.7 787.1,330.8 787.1,319.5 782.2,313.9 778.6,311.0"/>
<polyline points="773.7,284.9 781.9,283.7 791.3,286.1 800.8,284.9 810.2,281.4 819.6,280.7 831.4,280.2"/>
<polyline points="723.3,322.3 752.5,311.7"/>
<polyline points="723.3,322.3 725.4,330.8"/>
<polyline points="648.8,348.5 659.4,348.5 671.2,353.2 685.3,355.1 692.4,348.5 700.6,341.4 708.9,340.3 711.2,334.4 718.3,330.8 726.6,329.7 734.8,332.0 744.2,335.5 752.5,341.4 754.8,348.5 754.8,357.9 753.7,367.3 756.0,374.4 753.7,381.5 748.9,390.9 743.1,398.0 737.2,402.0"/>
<polyline points="671.2,353.2 675.9,362.6 683.0,369.7 692.4,376.8 697.1,381.5 698.3,388.5 704.2,394.4 713.6,400.3 720.7,402.7"/>
<polyline points="713.6,400.3 725.4,401.5 737.2,401.5"/>
<polyline points="648.8,354.4 654.7,357.9 660.6,354.4 671.2,353.2"/>
<polyline points="831.4,336.2 824.3,341.4 814.9,346.1 805.5,349.7 796.1,356.7 789.0,363.8 779.6,370.9 772.5,376.8 771.3,383.8 774.9,390.9 778.4,405.0"/>
<polyline points="818.4,224.8 822.0,230.7 825.5,235.4 824.3,244.8 826.7,254.3 829.0,263.7 831.4,268.9"/>
<polyline points="822.0,224.8 825.5,229.5 827.9,231.9"/>
</g>
<g clip-path="url(#q8)">
</g>
<g clip-path="url(#q9)">
</g>
<g clip-path="url(#q10)">
<polyline points="552.4,400.8 554.3,406.7 554.8,416.1 557.2,425.6 559.5,437.3 561.9,449.1 564.2,457.4 568.9,463.2 573.7,468.0 577.2,471.5"/>
<polyline points="577.2,471.5 580.7,466.8 584.3,464.4 587.8,468.0 592.5,471.5 599.6,472.2 606.6,472.7 613.7,470.3 616.5,465.6 616.5,400.8"/>
<polyline points="577.2,471.5 579.5,477.4 583.1,484.4 587.8,492.7 592.5,498.6 596.7,504.5 597.2,511.5 592.5,513.9 592.5,518.6 597.2,523.3 598.4,531.6 600.7,529.2 606.6,532.7 611.3,535.1 617.2,535.1 623.1,532.0 630.2,531.6 637.3,529.2 644.3,528.0 653.7,528.7 663.2,529.2 671.4,530.4"/>
<polyline points="616.5,430.3 621.9,432.6 624.3,438.5 623.1,449.1 630.2,449.1 637.3,446.8 642.0,442.0 646.7,435.0 651.4,433.3 658.5,436.2 665.5,437.3 671.4,437.8"/>
</g>
<g clip-path="url(#q11)">
<polyline points="648.8,431.4 657.1,435.0 666.5,438.5 673.6,437.3 677.1,430.3 683.0,425.6 687.7,418.5 693.6,411.4 700.6,405.5 711.2,403.2 711.7,400.8"/>
<polyline points="725.4,400.8 737.2,402.0 740.7,409.1 743.1,416.1 745.4,425.6 745.4,437.3 746.1,447.9"/>
<polyline points="731.3,445.6 734.8,439.2 740.7,438.5 745.4,442.0 746.1,447.9 744.2,453.8 738.3,455.0 732.4,451.5 731.3,445.6"/>
<polyline points="781.9,400.8 781.4,411.4 779.6,419.7 778.4,424.4 772.5,427.9 763.1,431.4 754.8,435.0 750.1,439.7 751.3,443.2 753.7,444.4 753.2,451.5 751.3,460.9 747.8,469.1 740.7,473.8 734.8,480.9 728.9,489.2 720.7,498.6 712.4,506.8 704.2,515.1 695.9,521.0 687.7,524.5 677.1,525.7 675.9,529.2 667.7,528.7 659.4,529.2 648.8,530.4"/>
<polyline points="746.1,447.9 753.7,447.9"/>
<polyline points="691.2,480.9 697.1,475.0 705.4,470.3 711.2,470.3 716.0,475.0 717.1,480.9 712.4,485.6 706.5,485.6 703.0,490.3 698.3,492.0 693.6,486.8 691.2,480.9"/>
</g>
<g clip-path="url(#q12)">
</g>
<g clip-path="url(#q13)">
</g>
</g>
<polygon points="246.0,240.5 247.9,245.3 253.1,245.7 249.1,249.0 250.4,254.1 246.0,251.3 241.6,254.1 242.9,249.0 238.9,245.7 244.1,245.3" fill="none" stroke="#000" stroke-width="2.5" stroke-linejoin="round"/>
<polygon points="339.0,326.5 340.9,331.3 346.1,331.7 342.1,335.0 343.4,340.1 339.0,337.3 334.6,340.1 335.9,335.0 331.9,331.7 337.1,331.3" fill="none" stroke="#000" stroke-width="2.5" stroke-linejoin="round"/>
<g class="fr">
<line x1="78" y1="53" x2="78" y2="594" stroke-width="4"/>
<line x1="76" y1="55" x2="832" y2="55" stroke-width="4"/>
<line x1="76" y1="592" x2="832" y2="592" stroke-width="4"/>
<line x1="830.5" y1="53" x2="830.5" y2="594" stroke-width="3"/>
<line x1="78.0" y1="592" x2="78.0" y2="612" stroke-width="4"/>
<line x1="78.0" y1="55" x2="78.0" y2="35" stroke-width="4"/>
<line x1="185.5" y1="592" x2="185.5" y2="602" stroke-width="2.6"/>
<line x1="185.5" y1="55" x2="185.5" y2="45" stroke-width="2.6"/>
<line x1="293.0" y1="592" x2="293.0" y2="602" stroke-width="2.6"/>
<line x1="293.0" y1="55" x2="293.0" y2="45" stroke-width="2.6"/>
<line x1="400.5" y1="592" x2="400.5" y2="612" stroke-width="4"/>
<line x1="400.5" y1="55" x2="400.5" y2="35" stroke-width="4"/>
<line x1="508.0" y1="592" x2="508.0" y2="602" stroke-width="2.6"/>
<line x1="508.0" y1="55" x2="508.0" y2="45" stroke-width="2.6"/>
<line x1="615.5" y1="592" x2="615.5" y2="602" stroke-width="2.6"/>
<line x1="615.5" y1="55" x2="615.5" y2="45" stroke-width="2.6"/>
<line x1="723.0" y1="592" x2="723.0" y2="612" stroke-width="4"/>
<line x1="723.0" y1="55" x2="723.0" y2="35" stroke-width="4"/>
<line x1="830.5" y1="592" x2="830.5" y2="602" stroke-width="2.6"/>
<line x1="830.5" y1="55" x2="830.5" y2="45" stroke-width="2.6"/>
<line x1="78" y1="592.0" x2="58" y2="592.0" stroke-width="4"/>
<line x1="830.5" y1="592.0" x2="850.5" y2="592.0" stroke-width="4"/>
<line x1="78" y1="538.3" x2="68" y2="538.3" stroke-width="2.6"/>
<line x1="830.5" y1="538.3" x2="840.5" y2="538.3" stroke-width="2.6"/>
<line x1="78" y1="484.6" x2="68" y2="484.6" stroke-width="2.6"/>
<line x1="830.5" y1="484.6" x2="840.5" y2="484.6" stroke-width="2.6"/>
<line x1="78" y1="430.9" x2="68" y2="430.9" stroke-width="2.6"/>
<line x1="830.5" y1="430.9" x2="840.5" y2="430.9" stroke-width="2.6"/>
<line x1="78" y1="377.2" x2="58" y2="377.2" stroke-width="4"/>
<line x1="830.5" y1="377.2" x2="850.5" y2="377.2" stroke-width="4"/>
<line x1="78" y1="323.5" x2="68" y2="323.5" stroke-width="2.6"/>
<line x1="830.5" y1="323.5" x2="840.5" y2="323.5" stroke-width="2.6"/>
<line x1="78" y1="269.8" x2="68" y2="269.8" stroke-width="2.6"/>
<line x1="830.5" y1="269.8" x2="840.5" y2="269.8" stroke-width="2.6"/>
<line x1="78" y1="216.1" x2="68" y2="216.1" stroke-width="2.6"/>
<line x1="830.5" y1="216.1" x2="840.5" y2="216.1" stroke-width="2.6"/>
<line x1="78" y1="162.4" x2="58" y2="162.4" stroke-width="4"/>
<line x1="830.5" y1="162.4" x2="850.5" y2="162.4" stroke-width="4"/>
<line x1="78" y1="108.7" x2="68" y2="108.7" stroke-width="2.6"/>
<line x1="830.5" y1="108.7" x2="840.5" y2="108.7" stroke-width="2.6"/>
<line x1="78" y1="55.0" x2="68" y2="55.0" stroke-width="2.6"/>
<line x1="830.5" y1="55.0" x2="840.5" y2="55.0" stroke-width="2.6"/>
</g>
<text class="t1" x="76.5" y="27">CO col BB 5 Oct</text>
<text class="t2" x="81" y="46.6">(1E18*molec/cm2)</text>
<text class="t1" x="830" y="22.3" text-anchor="end">2018-10-18_18</text>
<text class="t2" x="43" y="171.3" text-anchor="end">0</text>
<text class="t2" x="43" y="386.1" text-anchor="end">20S</text>
<text class="t2" x="43" y="600.9" text-anchor="end">40S</text>
<text class="t2" x="78.0" y="646.3" text-anchor="middle">30W</text>
<text class="t2" x="400.5" y="646.3" text-anchor="middle">0</text>
<text class="t2" x="723.0" y="646.3" text-anchor="middle">30E</text>
<rect x="123.40" y="665" width="50.89" height="47.4" fill="#ffffff" stroke="#000" stroke-width="2.4"/>
<rect x="174.29" y="665" width="50.89" height="47.4" fill="#aaaaff" stroke="#000" stroke-width="2.4"/>
<rect x="225.18" y="665" width="50.89" height="47.4" fill="#5555ff" stroke="#000" stroke-width="2.4"/>
<rect x="276.08" y="665" width="50.89" height="47.4" fill="#0000ff" stroke="#000" stroke-width="2.4"/>
<rect x="326.97" y="665" width="50.89" height="47.4" fill="#0033bb" stroke="#000" stroke-width="2.4"/>
<rect x="377.86" y="665" width="50.89" height="47.4" fill="#087766" stroke="#000" stroke-width="2.4"/>
<rect x="428.75" y="665" width="50.89" height="47.4" fill="#00aa11" stroke="#000" stroke-width="2.4"/>
<rect x="479.65" y="665" width="50.89" height="47.4" fill="#55c811" stroke="#000" stroke-width="2.4"/>
<rect x="530.54" y="665" width="50.89" height="47.4" fill="#a5e00a" stroke="#000" stroke-width="2.4"/>
<rect x="581.43" y="665" width="50.89" height="47.4" fill="#f5fa0a" stroke="#000" stroke-width="2.4"/>
<rect x="632.32" y="665" width="50.89" height="47.4" fill="#ffb800" stroke="#000" stroke-width="2.4"/>
<rect x="683.22" y="665" width="50.89" height="47.4" fill="#ff5d00" stroke="#000" stroke-width="2.4"/>
<rect x="734.11" y="665" width="50.89" height="47.4" fill="#ff0a05" stroke="#000" stroke-width="2.4"/>
<text class="t2" x="225.2" y="744.8" text-anchor="middle">0.002</text>
<text class="t2" x="327.0" y="744.8" text-anchor="middle">0.01</text>
<text class="t2" x="428.8" y="744.8" text-anchor="middle">0.05</text>
<text class="t2" x="530.5" y="744.8" text-anchor="middle">0.2</text>
<text class="t2" x="632.3" y="744.8" text-anchor="middle">1</text>
<text class="t2" x="734.1" y="744.8" text-anchor="middle">5</text>
</svg></body></html>
